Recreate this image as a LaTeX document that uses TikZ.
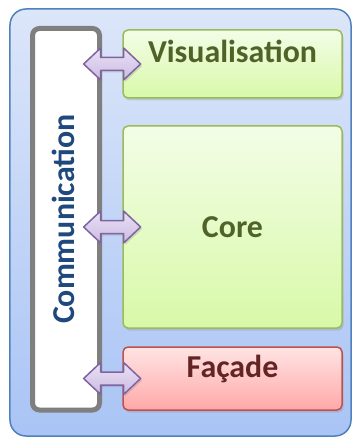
\documentclass[tikz,border=0pt]{standalone}
\usepackage{fontspec}
\setmainfont{Carlito}
\usetikzlibrary{calc,shadows}

\definecolor{framefill}{HTML}{DCE6F9}
\definecolor{framefilldark}{HTML}{A9C4F5}
\definecolor{frameline}{HTML}{4F81BD}
\definecolor{commline}{HTML}{7F7F7F}
\definecolor{commtext}{HTML}{1F497D}
\definecolor{greentop}{HTML}{F3FDE7}
\definecolor{greenbot}{HTML}{D8F9A8}
\definecolor{greenline}{HTML}{9BBB59}
\definecolor{greentext}{HTML}{4F6228}
\definecolor{redtop}{HTML}{FFE4E4}
\definecolor{redbot}{HTML}{FFA8A8}
\definecolor{redline}{HTML}{C0504D}
\definecolor{redtext}{HTML}{632523}
\definecolor{arrowtop}{HTML}{EAE1F5}
\definecolor{arrowbot}{HTML}{CBBBE2}
\definecolor{arrowline}{HTML}{8064A2}

\tikzset{
    bigfont/.style={font=\fontsize{32}{38}\selectfont\bfseries},
    modbox/.style={rounded corners=5bp, line width=1.5bp, minimum width=219bp,
        inner sep=0pt,
        drop shadow={opacity=0.25, shadow xshift=1.5bp, shadow yshift=-2.5bp}},
    greenbox/.style={modbox, draw=greenline, top color=greentop, bottom color=greenbot},
    redbox/.style={modbox, draw=redline, top color=redtop, bottom color=redbot},
    pics/linkarrow/.style={code={
        \draw[arrowline, line width=1.5bp, line join=round,
              top color=arrowtop, bottom color=arrowbot,
              drop shadow={opacity=0.25, shadow xshift=1.5bp, shadow yshift=-2bp}]
            (-28.5,0) -- (-11.5,-16) -- (-11.5,-6.5) -- (11.5,-6.5) -- (11.5,-16)
            -- (28.5,0) -- (11.5,16) -- (11.5,6.5) -- (-11.5,6.5) -- (-11.5,16) -- cycle;
    }}
}

\begin{document}
\begin{tikzpicture}[x=1bp,y=-1bp]
    \useasboundingbox (0,0) rectangle (356,439);

    % === Outer frame ===
    \node[draw=frameline, line width=1.5bp, rounded corners=16bp,
          top color=framefill, bottom color=framefilldark,
          minimum width=341bp, minimum height=427bp] (frame) at (180.5,222.5) {};

    % === Communication bus ===
    \node[draw=commline, line width=5bp, fill=white, rounded corners=7bp,
          minimum width=67bp, minimum height=381.5bp] (comm) at (66,219.25) {};
    \node[bigfont, text=commtext, rotate=90] (commtext) at ([xshift=-3bp]comm.center) {Communication};

    % === Modules ===
    \node[greenbox, minimum height=68bp] (vis) at (232.5,64) {};
    \node[bigfont, text=greentext, anchor=base] (vistext) at ([yshift=-33bp]vis.north) {Visualisation};

    \node[greenbox, minimum height=202bp, bigfont, text=greentext] (core) at (232.5,227) {Core};

    \node[redbox, minimum height=63bp] (fac) at (232.5,378.5) {};
    \node[bigfont, text=redtext, anchor=base] (factext) at ([yshift=-31bp]fac.north) {Façade};

    % === Links between bus and modules ===
    \pic at ($(comm.east |- vis.west)!0.5!(vis.west)$) {linkarrow};
    \pic at ($(comm.east |- core.west)!0.5!(core.west)$) {linkarrow};
    \pic at ($(comm.east |- fac.west)!0.5!(fac.west)$) {linkarrow};
\end{tikzpicture}
\end{document}
